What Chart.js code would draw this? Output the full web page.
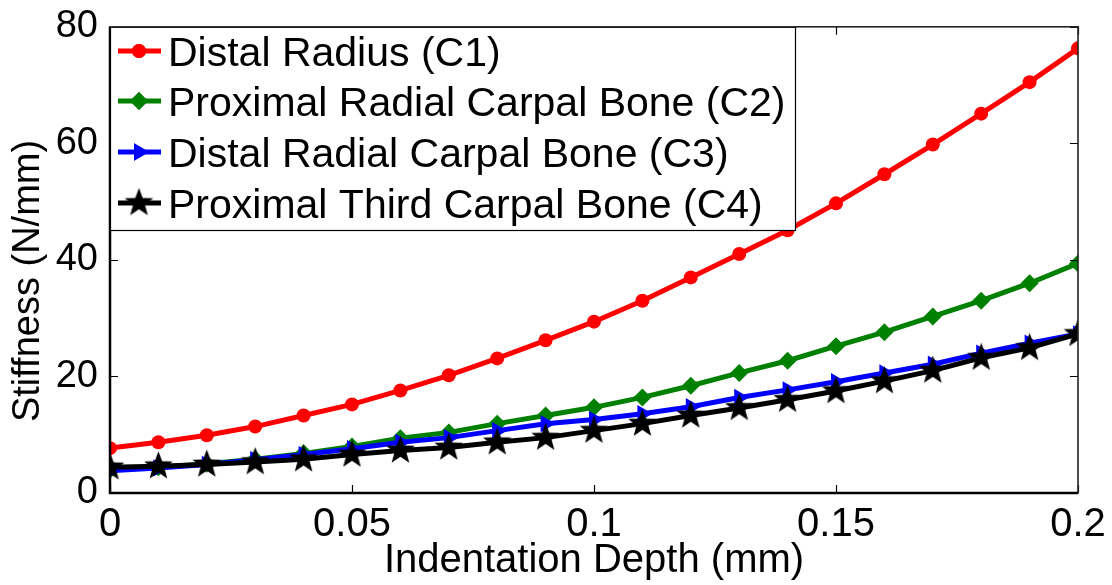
<!DOCTYPE html>
<html>
<head>
<meta charset="utf-8">
<script src="https://cdn.jsdelivr.net/npm/chart.js@4.4.1/dist/chart.umd.min.js"></script>
<style>
  html, body { margin: 0; padding: 0; background: #fff; }
  #wrap { width: 1112px; height: 585px; }
</style>
</head>
<body>
<div id="wrap"><canvas id="c" width="1112" height="585"></canvas></div>
<script>
// Indentation depth (mm)
const depth = [0, 0.01, 0.02, 0.03, 0.04, 0.05, 0.06, 0.07, 0.08, 0.09, 0.1,
               0.11, 0.12, 0.13, 0.14, 0.15, 0.16, 0.17, 0.18, 0.19, 0.2];

// Stiffness (N/mm) per site
const distalRadius = [7.7, 8.7, 9.9, 11.4, 13.3, 15.2, 17.6, 20.2, 23.1, 26.2, 29.4,
                      33.0, 37.0, 41.0, 45.1, 49.7, 54.7, 59.8, 65.1, 70.5, 76.3];
const proxRadialCarpal = [4.0, 4.4, 5.0, 5.8, 6.8, 8.0, 9.4, 10.4, 11.9, 13.3, 14.7,
                          16.4, 18.4, 20.6, 22.7, 25.2, 27.6, 30.3, 33.0, 36.0, 39.4];
const distRadialCarpal = [3.8, 4.3, 4.9, 5.7, 6.6, 7.6, 8.7, 9.5, 10.7, 11.9, 12.6,
                          13.6, 14.8, 16.4, 17.7, 19.1, 20.6, 22.1, 24.0, 25.7, 27.3];
const proxThirdCarpal = [4.4, 4.6, 4.9, 5.3, 5.8, 6.6, 7.3, 7.8, 8.7, 9.5, 10.7,
                         11.9, 13.3, 14.6, 16.0, 17.5, 19.2, 21.0, 23.2, 24.9, 27.3];

const seriesLabels = [
  'Distal Radius (C1)',
  'Proximal Radial Carpal Bone (C2)',
  'Distal Radial Carpal Bone (C3)',
  'Proximal Third Carpal Bone (C4)'
];

const xTicks = [0, 0.05, 0.1, 0.15, 0.2];
const yTicks = [0, 20, 40, 60, 80];

const FONT = '"Liberation Sans", Arial, sans-serif';

// filled five-pointed star marker
function makeStar(size, color) {
  const cv = document.createElement('canvas');
  cv.width = size; cv.height = size;
  const g = cv.getContext('2d');
  const cx = size / 2, cy = size / 2, ro = size / 2 - 0.5, ri = ro * 0.42;
  g.beginPath();
  for (let i = 0; i < 10; i++) {
    const r = i % 2 === 0 ? ro : ri;
    const a = -Math.PI / 2 + i * Math.PI / 5;
    const px = cx + r * Math.cos(a), py = cy + r * Math.sin(a);
    if (i === 0) g.moveTo(px, py); else g.lineTo(px, py);
  }
  g.closePath();
  g.fillStyle = color;
  g.fill();
  return cv;
}
const starImg = makeStar(31, '#000');

function pts(ys) { return depth.map((x, i) => ({ x: x, y: ys[i] })); }

const datasets = [
  { label: seriesLabels[0], data: pts(distalRadius), borderColor: '#ff0000', backgroundColor: '#ff0000',
    pointStyle: 'circle', pointRadius: 7, order: 4 },
  { label: seriesLabels[1], data: pts(proxRadialCarpal), borderColor: '#008000', backgroundColor: '#008000',
    pointStyle: 'rectRot', pointRadius: 9, order: 3 },
  { label: seriesLabels[2], data: pts(distRadialCarpal), borderColor: '#0000ff', backgroundColor: '#0000ff',
    pointStyle: 'triangle', pointRotation: 90, pointRadius: 10, order: 2 },
  { label: seriesLabels[3], data: pts(proxThirdCarpal), borderColor: '#000000', backgroundColor: '#000000',
    pointStyle: starImg, pointRadius: 15, order: 1 }
];
datasets.forEach(d => {
  d.borderWidth = 5;
  d.pointBorderWidth = 0;
  d.pointHoverRadius = d.pointRadius;
  d.tension = 0;
  d.fill = false;
});

// axes box and inward tick marks
const boxPlugin = {
  id: 'box',
  afterDatasetsDraw(chart) {
    const { ctx, chartArea: a, scales } = chart;
    ctx.save();
    ctx.strokeStyle = '#000';
    ctx.lineWidth = 1.2;
    const L = 8;
    ctx.beginPath();
    xTicks.forEach(v => {
      const px = Math.round(scales.x.getPixelForValue(v)) + 0.5;
      ctx.moveTo(px, a.bottom); ctx.lineTo(px, a.bottom - L);
      ctx.moveTo(px, a.top); ctx.lineTo(px, a.top + L);
    });
    yTicks.forEach(v => {
      const py = Math.round(scales.y.getPixelForValue(v)) + 0.5;
      ctx.moveTo(a.left, py); ctx.lineTo(a.left + L, py);
      ctx.moveTo(a.right, py); ctx.lineTo(a.right - L, py);
    });
    ctx.stroke();
    ctx.lineWidth = 1.6;
    ctx.strokeStyle = '#222';
    ctx.strokeRect(a.left, a.top, a.right - a.left, a.bottom - a.top);
    ctx.lineWidth = 2.5;
    ctx.strokeStyle = '#000';
    ctx.beginPath();
    ctx.moveTo(a.left, a.top); ctx.lineTo(a.left, a.bottom); ctx.lineTo(a.right, a.bottom);
    ctx.stroke();
    ctx.restore();
  }
};

// legend box in the upper-left corner of the plot
const legendPlugin = {
  id: 'cornerLegend',
  afterDatasetsDraw(chart) {
    const { ctx, chartArea: a } = chart;
    const boxR = 795, boxB = 230;
    ctx.save();
    ctx.fillStyle = '#fff';
    ctx.fillRect(a.left, a.top, boxR - a.left, boxB - a.top);
    ctx.strokeStyle = '#000';
    ctx.lineWidth = 1.2;
    ctx.strokeRect(a.left + 0.5, a.top + 0.5, boxR - a.left, boxB - a.top);
    const rowsY = [51, 101, 152, 203];
    chart.data.datasets.forEach((ds, i) => {
      const y = rowsY[i];
      ctx.strokeStyle = ds.borderColor;
      ctx.lineWidth = 5;
      ctx.beginPath();
      ctx.moveTo(118, y); ctx.lineTo(161, y);
      ctx.stroke();
      const ps = ds.pointStyle;
      if (ps instanceof HTMLCanvasElement) {
        ctx.drawImage(ps, 139 - ps.width / 2, y - ps.height / 2);
      } else {
        ctx.fillStyle = ds.backgroundColor;
        ctx.strokeStyle = ds.borderColor;
        Chart.helpers.drawPoint(ctx, {
          pointStyle: ps, radius: ds.pointRadius, rotation: ds.pointRotation || 0, borderWidth: 0
        }, 139, y);
        ctx.fill();
      }
      ctx.fillStyle = '#000';
      ctx.font = '41px ' + FONT;
      ctx.textBaseline = 'alphabetic';
      ctx.textAlign = 'left';
      ctx.fillText(ds.label, 168, y + 15);
    });
    ctx.restore();
  }
};

new Chart(document.getElementById('c'), {
  type: 'line',
  data: { datasets: datasets },
  options: {
    responsive: false,
    animation: false,
    layout: { padding: { top: 24, right: 34, left: 0, bottom: 0 } },
    plugins: { legend: { display: false }, tooltip: { enabled: false } },
    scales: {
      x: {
        type: 'linear', min: 0, max: 0.2,
        afterFit(s) { s.height = 92; },
        afterBuildTicks(s) { s.ticks = xTicks.map(v => ({ value: v })); },
        grid: { display: false },
        border: { display: false },
        ticks: { color: '#000', font: { family: FONT, size: 40 }, padding: 0,
                 maxRotation: 0, autoSkip: false,
                 callback: v => String(v) },
        title: { display: true, text: 'Indentation Depth (mm)', color: '#000',
                 font: { family: FONT, size: 40 }, padding: { top: -6, bottom: 0 } }
      },
      y: {
        min: 0, max: 80,
        afterFit(s) { s.width = 110; },
        afterBuildTicks(s) { s.ticks = yTicks.map(v => ({ value: v })); },
        grid: { display: false },
        border: { display: false },
        ticks: { color: '#000', font: { family: FONT, size: 38 }, padding: 4 },
        title: { display: true, text: 'Stiffness (N/mm)    ', color: '#000',
                 font: { family: FONT, size: 38 }, padding: { top: 6, bottom: 0 } }
      }
    }
  },
  plugins: [boxPlugin, legendPlugin]
});
</script>
</body>
</html>
